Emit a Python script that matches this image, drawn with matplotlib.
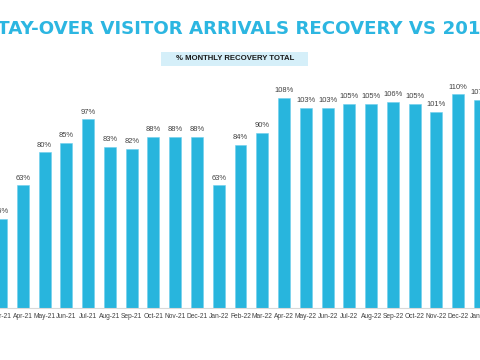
import matplotlib.pyplot as plt
import matplotlib.patches as mpatches

# Dados (leitura da imagem)
meses = ['Mar-21', 'Apr-21', 'May-21', 'Jun-21', 'Jul-21', 'Aug-21', 'Sep-21',
         'Oct-21', 'Nov-21', 'Dec-21', 'Jan-22', 'Feb-22', 'Mar-22', 'Apr-22',
         'May-22', 'Jun-22', 'Jul-22', 'Aug-22', 'Sep-22', 'Oct-22', 'Nov-22',
         'Dec-22', 'Jan-23']
recuperacao = [46, 63, 80, 85, 97, 83, 82, 88, 88, 88, 63, 84, 90, 108,
               103, 103, 105, 105, 106, 105, 101, 110, 107]

COR_BARRA = '#28b5dd'
COR_TITULO = '#2cb6e1'

fig = plt.figure(figsize=(4.8, 3.6), dpi=100)
fig.patch.set_facecolor('white')

# eixo ocupa toda a largura; o gráfico original está cortado nas laterais
passo = 22.05  # px por barra
x0 = -1 / passo
x1 = x0 + 480 / passo
ax = fig.add_axes([0, (360 - 308) / 360, 1, (308 - 60) / 360])
ax.set_xlim(x0, x1)
ax.set_ylim(0, 248 / 1.945)

pos = list(range(len(meses)))
ax.bar(pos, recuperacao, width=0.55, color=COR_BARRA,
       edgecolor='#6fd0ee', linewidth=0.4, zorder=2)

for x, v in zip(pos, recuperacao):
    ax.text(x, v + 1.8, f'{v}%', ha='center', va='bottom', fontsize=5.4,
            color='#404040', clip_on=False, family='Liberation Sans')

ax.set_xticks(pos)
ax.set_xticklabels(meses, fontsize=4.8, color='#404040', family='Liberation Sans')
ax.tick_params(axis='x', length=0, pad=3.5)
ax.set_yticks([])
for lado in ['top', 'right', 'left']:
    ax.spines[lado].set_visible(False)
ax.spines['bottom'].set_color('#d9d9d9')
ax.spines['bottom'].set_linewidth(0.8)

# titulo
fig.text(239 / 480, 1 - 29 / 360, 'STAY-OVER VISITOR ARRIVALS RECOVERY VS 2019',
         ha='center', va='center', fontsize=13.15, fontweight='bold',
         color=COR_TITULO, family='DejaVu Sans')

# caixa do subtitulo
caixa = mpatches.Rectangle((161 / 480, 1 - 66 / 360), (308 - 161) / 480, 14 / 360,
                           transform=fig.transFigure, facecolor='#d5eff9',
                           edgecolor='none')
fig.patches.append(caixa)
fig.text(235 / 480, 1 - 59 / 360, '% MONTHLY RECOVERY TOTAL', ha='center',
         va='center', fontsize=5.6, fontweight='bold', color='#1a1a1a',
         family='Liberation Sans')

fig.savefig('out.png', dpi=100)
